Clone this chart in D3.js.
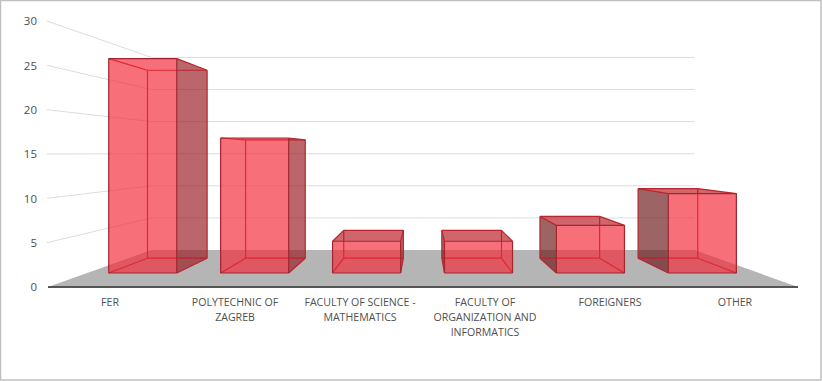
<!DOCTYPE html>
<html>
<head>
<meta charset="utf-8">
<script src="https://cdnjs.cloudflare.com/ajax/libs/d3/7.8.5/d3.min.js"></script>
<style>
html, body { margin: 0; padding: 0; background: #fff; }
svg { display: block; }
text { font-family: "Open Sans", sans-serif; fill: #505050; }
</style>
</head>
<body>
<svg width="822" height="381"></svg>
<script>
var categories = ["FER", "POLYTECHNIC OF ZAGREB", "FACULTY OF SCIENCE - MATHEMATICS",
    "FACULTY OF ORGANIZATION AND INFORMATICS", "FOREIGNERS", "OTHER"];
var values = [27, 17, 4, 4, 6, 10];
var yTicks = [0, 5, 10, 15, 20, 25, 30];

var svg = d3.select("svg"),
    width = +svg.attr("width"),
    height = +svg.attr("height");

// front plane of the 3d box, everything else is projected from here
var xScale = d3.scaleBand().domain(categories).range([47.5, 797.5]).paddingInner(0.392).paddingOuter(0.196),
    yScale = d3.scaleLinear().domain([0, 30]).range([287, 21]),
    depthScale = d3.scaleLinear().domain([0, 1]).range([1, 1.381]);

var vanishX = 423, vanishY = 153;
var barFront = 0.3066, barBack = 0.719;

function project(x, v, z) {
    var s = 1 / depthScale(z);
    return [vanishX + (x - vanishX) * s, vanishY + (yScale(v) - vanishY) * s];
}

var line = d3.line();
function poly(pts) { return line(pts) + "Z"; }

svg.append("rect")
    .attr("x", 0.5).attr("y", 0.5)
    .attr("width", width - 1.5).attr("height", height - 1.5)
    .attr("fill", "#fff").attr("stroke", "#bfbfbf").attr("stroke-width", 1.5);

// floor
svg.append("path")
    .attr("d", poly([project(48, 0, 0), project(48, 0, 1), project(798, 0, 1), project(798, 0, 0)]))
    .attr("fill", "#b5b5b5");

// gridlines, from the axis to the back wall and across
svg.selectAll(".grid")
    .data(yTicks.filter(function(d) { return d > 0; }))
    .enter().append("path")
    .attr("class", "grid")
    .attr("d", function(d) { return line([project(47, d, 0), project(48, d, 1), project(798, d, 1)]); })
    .attr("fill", "none")
    .attr("stroke", "#dcdcdc")
    .attr("stroke-width", 1);

svg.append("line")
    .attr("x1", 48).attr("x2", 798)
    .attr("y1", yScale(0)).attr("y2", yScale(0))
    .attr("stroke", "#555").attr("stroke-width", 2);

// bars
var bars = svg.selectAll(".bar")
    .data(categories.map(function(c, i) { return { name: c, value: values[i] }; }))
    .enter().append("g")
    .attr("class", "bar");

bars.each(function(d) {
    var g = d3.select(this);
    var x0 = xScale(d.name), x1 = x0 + xScale.bandwidth(), v = d.value;

    var fl = project(x0, v, barFront), fr = project(x1, v, barFront),
        br = project(x1, v, barBack), bl = project(x0, v, barBack),
        fl0 = project(x0, 0, barFront), fr0 = project(x1, 0, barFront),
        br0 = project(x1, 0, barBack), bl0 = project(x0, 0, barBack);

    function face(pts, fill) {
        g.append("path").attr("d", poly(pts))
            .attr("fill", fill || "none")
            .attr("stroke", "none");
    }
    function edges(pairs, color) {
        pairs.forEach(function(p) {
            g.append("path").attr("d", line(p))
                .attr("fill", "none")
                .attr("stroke", color)
                .attr("stroke-width", 1.2);
        });
    }

    // only outward facing sides get shaded, the rest is see through
    if (br[0] > fr[0]) face([fr, br, br0, fr0], "rgba(154,27,34,0.67)");
    if (bl[0] < fl[0]) face([fl, bl, bl0, fl0], "rgba(107,24,25,0.67)");
    if (br[1] < fr[1]) face([fl, bl, br, fr], "rgba(185,27,34,0.67)");

    edges([[bl, br], [br, br0], [br0, bl0], [bl0, bl], [fl0, bl0], [fr0, br0], [fl, bl], [fr, br]], "#b8252f");
    face([fl, fr, fr0, fl0], "rgba(243,40,54,0.67)");
    edges([[fl, fr], [fr, fr0], [fr0, fl0], [fl0, fl]], "#a32530");
});

// y axis labels
var yAxis = svg.append("g")
    .attr("transform", "translate(37,0)")
    .call(d3.axisLeft(yScale).tickValues(yTicks).tickSize(0).tickPadding(0));
yAxis.select(".domain").remove();
yAxis.selectAll("text").style("font-family", "'Open Sans', sans-serif").style("font-size", "11.5px");

// category labels
var xAxisScale = d3.scaleBand().domain(categories).range([47.5, 797.5]);
var xAxis = svg.append("g")
    .attr("transform", "translate(0,298.5)")
    .call(d3.axisBottom(xAxisScale).tickSize(0).tickPadding(0));
xAxis.select(".domain").remove();
xAxis.selectAll("text")
    .style("font-family", "'Open Sans', sans-serif")
    .style("font-size", "10.6px")
    .call(wrap, 116);

function wrap(sel, maxWidth) {
    sel.each(function() {
        var text = d3.select(this),
            words = text.text().split(" "),
            cur = [],
            n = 0;
        text.text(null);
        var tspan = text.append("tspan").attr("x", 0).attr("y", 0).attr("dy", "0.71em");
        words.forEach(function(w) {
            cur.push(w);
            tspan.text(cur.join(" "));
            if (tspan.node().getComputedTextLength() > maxWidth && cur.length > 1) {
                cur.pop();
                tspan.text(cur.join(" "));
                cur = [w];
                n++;
                tspan = text.append("tspan").attr("x", 0).attr("y", n * 15).attr("dy", "0.71em").text(w);
            }
        });
    });
}
</script>
</body>
</html>
